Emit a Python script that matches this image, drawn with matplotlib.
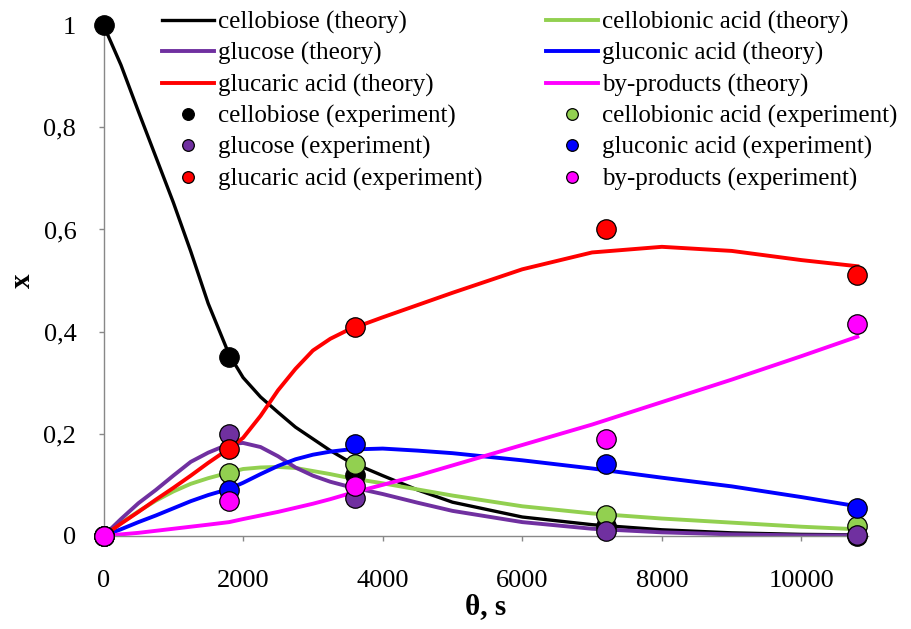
import matplotlib
matplotlib.use("Agg")
import matplotlib.pyplot as plt
from matplotlib.ticker import FuncFormatter

plt.rcParams['font.family'] = ['Liberation Serif', 'DejaVu Serif']

# experiment
t_exp = [0, 1800, 3600, 7200, 10800]
cellobiose_exp = [1.0, 0.35, 0.119, 0.02, 0.0]
cellobionic_exp = [0.0, 0.123, 0.14, 0.04, 0.02]
glucose_exp = [0.0, 0.20, 0.074, 0.01, 0.002]
gluconic_exp = [0.0, 0.09, 0.18, 0.14, 0.055]
glucaric_exp = [0.0, 0.17, 0.41, 0.60, 0.51]
byprod_exp = [0.0, 0.068, 0.098, 0.19, 0.415]

# theory
t_th = [0, 250, 500, 750, 1000, 1250, 1500, 1800, 2000, 2250, 2500, 2750,
        3000, 3250, 3500, 4000, 4500, 5000, 6000, 7000, 8000, 9000, 10000, 10800]
cellobiose_th = [1.0, 0.922, 0.831, 0.742, 0.653, 0.557, 0.455, 0.355, 0.31,
                 0.272, 0.242, 0.213, 0.19, 0.167, 0.147, 0.118, 0.09, 0.066,
                 0.037, 0.022, 0.012, 0.006, 0.003, 0.002]
cellobionic_th = [0.0, 0.025, 0.048, 0.069, 0.087, 0.102, 0.113, 0.124, 0.131,
                  0.134, 0.135, 0.133, 0.127, 0.121, 0.114, 0.103, 0.091,
                  0.079, 0.058, 0.044, 0.034, 0.026, 0.018, 0.013]
glucose_th = [0.0, 0.033, 0.064, 0.09, 0.118, 0.145, 0.163, 0.18, 0.182,
              0.174, 0.156, 0.134, 0.118, 0.106, 0.097, 0.082, 0.065, 0.049,
              0.027, 0.014, 0.007, 0.003, 0.001, 0.001]
gluconic_th = [0.0, 0.013, 0.027, 0.04, 0.054, 0.068, 0.08, 0.092, 0.104,
               0.121, 0.137, 0.15, 0.159, 0.165, 0.169, 0.171, 0.167, 0.162,
               0.148, 0.132, 0.114, 0.097, 0.076, 0.058]
glucaric_th = [0.0, 0.024, 0.047, 0.071, 0.094, 0.118, 0.143, 0.171, 0.192,
               0.235, 0.285, 0.327, 0.363, 0.386, 0.403, 0.428, 0.452, 0.476,
               0.522, 0.555, 0.566, 0.558, 0.54, 0.528]
byprod_th = [0.0, 0.003, 0.006, 0.01, 0.014, 0.018, 0.022, 0.027, 0.033, 0.04,
             0.047, 0.055, 0.063, 0.072, 0.082, 0.10, 0.118, 0.138, 0.178,
             0.218, 0.262, 0.306, 0.352, 0.39]

names = ["cellobiose", "cellobionic acid", "glucose", "gluconic acid",
         "glucaric acid", "by-products"]
colors = ["#000000", "#92D050", "#7030A0", "#0000FF", "#FF0000", "#FF00FF"]
theory = [cellobiose_th, cellobionic_th, glucose_th, gluconic_th, glucaric_th, byprod_th]
exper = [cellobiose_exp, cellobionic_exp, glucose_exp, gluconic_exp, glucaric_exp, byprod_exp]

fig = plt.figure(figsize=(9.12, 6.29), dpi=100)
ax = fig.add_axes([0.1135, 0.148, 0.838, 0.812])

lines = []
for n, c, y in zip(names, colors, theory):
    lw = 2.4 if c == "#000000" else 2.8
    l, = ax.plot(t_th, y, color=c, lw=lw, solid_joinstyle='round',
                 label=n + " (theory)", zorder=2)
    lines.append(l)
pts = []
for n, c, y in zip(names, colors, exper):
    p, = ax.plot(t_exp, y, 'o', ms=14, mfc=c, mec="black", mew=0.9,
                 label=n + " (experiment)", clip_on=False, zorder=3)
    pts.append(p)

ax.set_xlim(0, 10950)
ax.set_ylim(0, 1)
ax.set_xticks([0, 2000, 4000, 6000, 8000, 10000])
ax.set_yticks([0, 0.2, 0.4, 0.6, 0.8, 1.0])
ax.yaxis.set_major_formatter(FuncFormatter(lambda v, p: ("%g" % v).replace(".", ",")))
ax.tick_params(labelsize=19, color="#888888", length=3.6, width=1)
ax.tick_params(axis='x', pad=21)
ax.tick_params(axis='y', pad=16)
for s in ["top", "right"]:
    ax.spines[s].set_visible(False)
for s in ["left", "bottom"]:
    ax.spines[s].set_color("#888888")
    ax.spines[s].set_linewidth(1)

ax.set_xlabel("θ, s", fontsize=21, fontweight="bold", labelpad=1)
ax.set_ylabel("x", fontsize=21, fontweight="bold")
ax.yaxis.set_label_coords(-0.088, 0.5)

# excel legend is row-major, matplotlib fills by column
hl = [lines[i] for i in (0, 2, 4)] + [pts[i] for i in (0, 2, 4)] + \
     [lines[i] for i in (1, 3, 5)] + [pts[i] for i in (1, 3, 5)]
ax.legend(handles=hl, ncol=2, frameon=False, fontsize=18, markerscale=0.6,
          loc="upper left", bbox_to_anchor=(162 / 912, 1 - 11 / 629),
          bbox_transform=fig.transFigure, borderpad=0, borderaxespad=0,
          handlelength=2.1, handletextpad=0.16, columnspacing=2.5,
          labelspacing=0.33)

plt.savefig("out.png", dpi=100)
